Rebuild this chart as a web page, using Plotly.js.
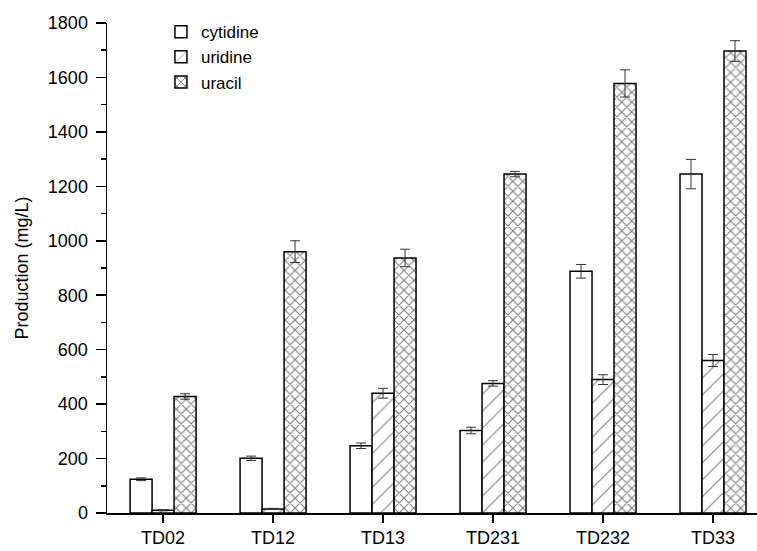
<!DOCTYPE html>
<html><head><meta charset="utf-8">
<script src="https://cdn.plot.ly/plotly-3.0.1.min.js"></script>
<style>body{margin:0;background:#fff}#chart{width:757px;height:551px}</style>
</head><body><div id="chart"></div>
<script>
const categories = ["TD02","TD12","TD13","TD231","TD232","TD33"];
const cytidine = [124, 201, 247, 303, 888, 1245];
const cytidineErr = [5, 8, 10, 12, 25, 54];
const uridine = [10, 15, 440, 476, 490, 560];
const uridineErr = [2, 2, 18, 10, 18, 22];
const uracil = [428, 960, 937, 1245, 1578, 1697];
const uracilErr = [10, 40, 32, 10, 50, 38];

function errb(arr){return {type:'data', array:arr, visible:true, color:'#333', thickness:1, width:5};}
const line = {color:'#000', width:1.5};
const traces = [
  {type:'bar', name:'cytidine', x:categories, y:cytidine, error_y:errb(cytidineErr),
   marker:{color:'#fff', line:line}},
  {type:'bar', name:'uridine', x:categories, y:uridine, error_y:errb(uridineErr),
   marker:{color:'#fff', line:line, pattern:{shape:'/', size:12, solidity:0.09, fgcolor:'#000', bgcolor:'#fff', fillmode:'overlay'}}},
  {type:'bar', name:'uracil', x:categories, y:uracil, error_y:errb(uracilErr),
   marker:{color:'#fff', line:line, pattern:{shape:'x', size:7, solidity:0.3, fgcolor:'#000', bgcolor:'#fff', fillmode:'overlay'}}}
];
const layout = {
  width:757, height:551,
  margin:{l:107, r:0, t:23, b:38},
  paper_bgcolor:'#fff', plot_bgcolor:'#fff',
  font:{family:'Liberation Sans, Arial, sans-serif', size:18, color:'#000'},
  barmode:'group', bargap:0.4, bargroupgap:0,
  showlegend:true,
  legend:{x:0.083, y:1.018, xanchor:'left', yanchor:'top', bgcolor:'rgba(0,0,0,0)', font:{size:17}, tracegroupgap:0, itemwidth:30},
  xaxis:{type:'category', range:[-0.51, 5.4], showline:true, linecolor:'#000', linewidth:1.5,
    ticks:'outside', ticklen:8, tickwidth:1.5, tickcolor:'#000', showgrid:false, zeroline:false,
    ticklabelstandoff:0, tickfont:{size:18}},
  yaxis:{range:[0,1800], dtick:200, tick0:0, showline:true, linecolor:'#000', linewidth:1.5,
    ticks:'outside', ticklen:10, tickwidth:1.5, tickcolor:'#000', showgrid:false, zeroline:false,
    ticklabelstandoff:4,
    minor:{dtick:100, ticks:'outside', ticklen:5, tickwidth:1.5, tickcolor:'#000', showgrid:false},
    tickfont:{size:18},
    title:{text:'Production (mg/L)', font:{size:18}, standoff:14}}
};
Plotly.newPlot('chart', traces, layout, {displayModeBar:false, staticPlot:true});
</script></body></html>
